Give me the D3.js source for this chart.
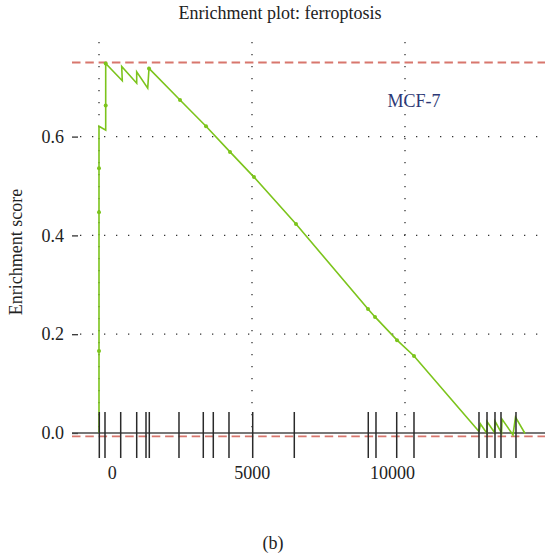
<!DOCTYPE html>
<html>
<head>
<meta charset="utf-8">
<script src="https://cdn.jsdelivr.net/npm/d3@7"></script>
<style>
  html, body { margin: 0; padding: 0; background: #fff; }
  svg { display: block; }
  text { font-family: "Liberation Serif", "Times New Roman", serif; fill: #222; }
</style>
</head>
<body>
<svg id="chart" width="545" height="558"></svg>
<script>
// ---- data ----
const title = "Enrichment plot: ferroptosis";
const yLabel = "Enrichment score";
const cellLine = "MCF-7";
const panelLabel = "(b)";

// running enrichment score path: rank and ES
const esRank  = [0, 0, 0, 0, 0, 219, 219, 219, 761, 742, 1232, 1232, 1592, 1634, 2647, 3497, 4281, 5065, 6438, 8791, 9020, 9739, 10294, 12418, 12467, 12680, 12680, 12925, 12941, 13154, 13170, 13529, 13611, 13922];
const esValue = [0.0, 0.166, 0.447, 0.536, 0.621, 0.613, 0.663, 0.748, 0.713, 0.742, 0.708, 0.731, 0.698, 0.738, 0.674, 0.621, 0.569, 0.518, 0.423, 0.251, 0.235, 0.188, 0.156, 0.003, 0.018, -0.001, 0.023, 0.001, 0.024, 0.0, 0.028, -0.004, 0.032, -0.001];

// marked points on the curve
const dotRank  = [0, 0, 0, 219, 219, 1634, 2647, 3497, 4281, 5065, 6438, 8791, 9020, 9739, 10294];
const dotValue = [0.166, 0.447, 0.536, 0.663, 0.748, 0.738, 0.674, 0.621, 0.569, 0.518, 0.423, 0.251, 0.235, 0.188, 0.156];

// gene-set hit positions (ranks)
const hitRanks = [10, 196, 709, 1232, 1536, 1644, 2614, 3408, 3735, 4248, 5023, 6382, 8800, 9052, 9729, 10294, 12418, 12680, 12941, 13137, 13627];

// reference lines
const maxES = 0.75;
const minES = -0.007;

// axis ticks
const yTicks = [0.0, 0.2, 0.4, 0.6];
const xTickLabels = [0, 5000, 10000];
const xGridValues = [0, 5000, 10000];

// ---- scales ----
const svg = d3.select("#chart");
const x = d3.scaleLinear().domain([0, 10000]).range([99, 405]);
const xLabelScale = d3.scaleLinear().domain([0, 10000]).range([111.7, 392]);
const y = d3.scaleLinear().domain([0, 0.6]).range([433, 136.6]);

const plotLeft = 72, plotRight = 545, plotTop = 42;

// gridlines (dotted)
const grid = svg.append("g");
grid.selectAll("line.hg").data(yTicks.filter(d => d > 0)).join("line")
  .attr("x1", 80).attr("x2", plotRight)
  .attr("y1", d => y(d)).attr("y2", d => y(d))
  .attr("stroke", "#333").attr("stroke-width", 1.3)
  .attr("stroke-dasharray", "1.3,10.7");
grid.selectAll("line.vg").data(xGridValues).join("line")
  .attr("x1", d => x(d)).attr("x2", d => x(d))
  .attr("y1", plotTop).attr("y2", y(0))
  .attr("stroke", "#333").attr("stroke-width", 1.3)
  .attr("stroke-dasharray", "1.3,10.7");

// y axis (tick dashes + labels, no domain line)
const yAxis = d3.axisLeft(y).tickValues(yTicks).tickFormat(d3.format(".1f")).tickSize(6).tickPadding(8);
const gy = svg.append("g").attr("transform", `translate(${plotLeft + 6},0)`).call(yAxis);
gy.select(".domain").remove();
gy.selectAll(".tick line").attr("stroke", "#333").attr("stroke-width", 1.3);
gy.selectAll(".tick text").style("font-family", "Liberation Serif, serif").style("font-size", "18px").attr("fill", "#222");

// x axis labels
const xAxis = d3.axisBottom(xLabelScale).tickValues(xTickLabels).tickFormat(d3.format("d")).tickSize(0).tickPadding(0);
const gx = svg.append("g").attr("transform", `translate(0,466)`).call(xAxis);
gx.select(".domain").remove();
gx.selectAll(".tick text").style("font-family", "Liberation Serif, serif").style("font-size", "18px").attr("fill", "#222");

// reference dashed lines
svg.append("line").attr("x1", plotLeft).attr("x2", plotRight)
  .attr("y1", y(maxES)).attr("y2", y(maxES))
  .attr("stroke", "#d8766d").attr("stroke-width", 1.8).attr("stroke-dasharray", "8.5,4.8");
svg.append("line").attr("x1", plotLeft).attr("x2", plotRight)
  .attr("y1", y(minES)).attr("y2", y(minES))
  .attr("stroke", "#d8766d").attr("stroke-width", 1.8).attr("stroke-dasharray", "8.5,4.8");

// zero line
svg.append("line").attr("x1", plotLeft).attr("x2", plotRight)
  .attr("y1", y(0)).attr("y2", y(0))
  .attr("stroke", "#4a4a4a").attr("stroke-width", 1.6);

// ES curve
const esData = esRank.map((r, i) => [r, esValue[i]]);
svg.append("path").datum(esData)
  .attr("fill", "none").attr("stroke", "#7cc41c").attr("stroke-width", 1.6)
  .attr("stroke-linejoin", "miter")
  .attr("d", d3.line().x(d => x(d[0])).y(d => y(d[1])));

// hit marks
svg.append("g").selectAll("line").data(hitRanks).join("line")
  .attr("x1", d => x(d)).attr("x2", d => x(d))
  .attr("y1", 412).attr("y2", 458)
  .attr("stroke", "#2a2a2a").attr("stroke-width", 1.5);

// dots
svg.append("g").selectAll("circle").data(dotRank.map((r, i) => [r, dotValue[i]])).join("circle")
  .attr("cx", d => x(d[0])).attr("cy", d => y(d[1])).attr("r", 2)
  .attr("fill", "#7cc41c");

// texts
svg.append("text").attr("x", 280).attr("y", 19).attr("text-anchor", "middle")
  .style("font-size", "18px").text(title);
svg.append("text").attr("transform", "translate(22,252) rotate(-90)").attr("text-anchor", "middle")
  .style("font-size", "18px").text(yLabel);
svg.append("text").attr("x", 414).attr("y", 107).attr("text-anchor", "middle")
  .style("font-size", "18px").style("fill", "#2d3875").text(cellLine);
svg.append("text").attr("x", 273).attr("y", 549).attr("text-anchor", "middle")
  .style("font-size", "18px").text(panelLabel);
</script>
</body>
</html>
